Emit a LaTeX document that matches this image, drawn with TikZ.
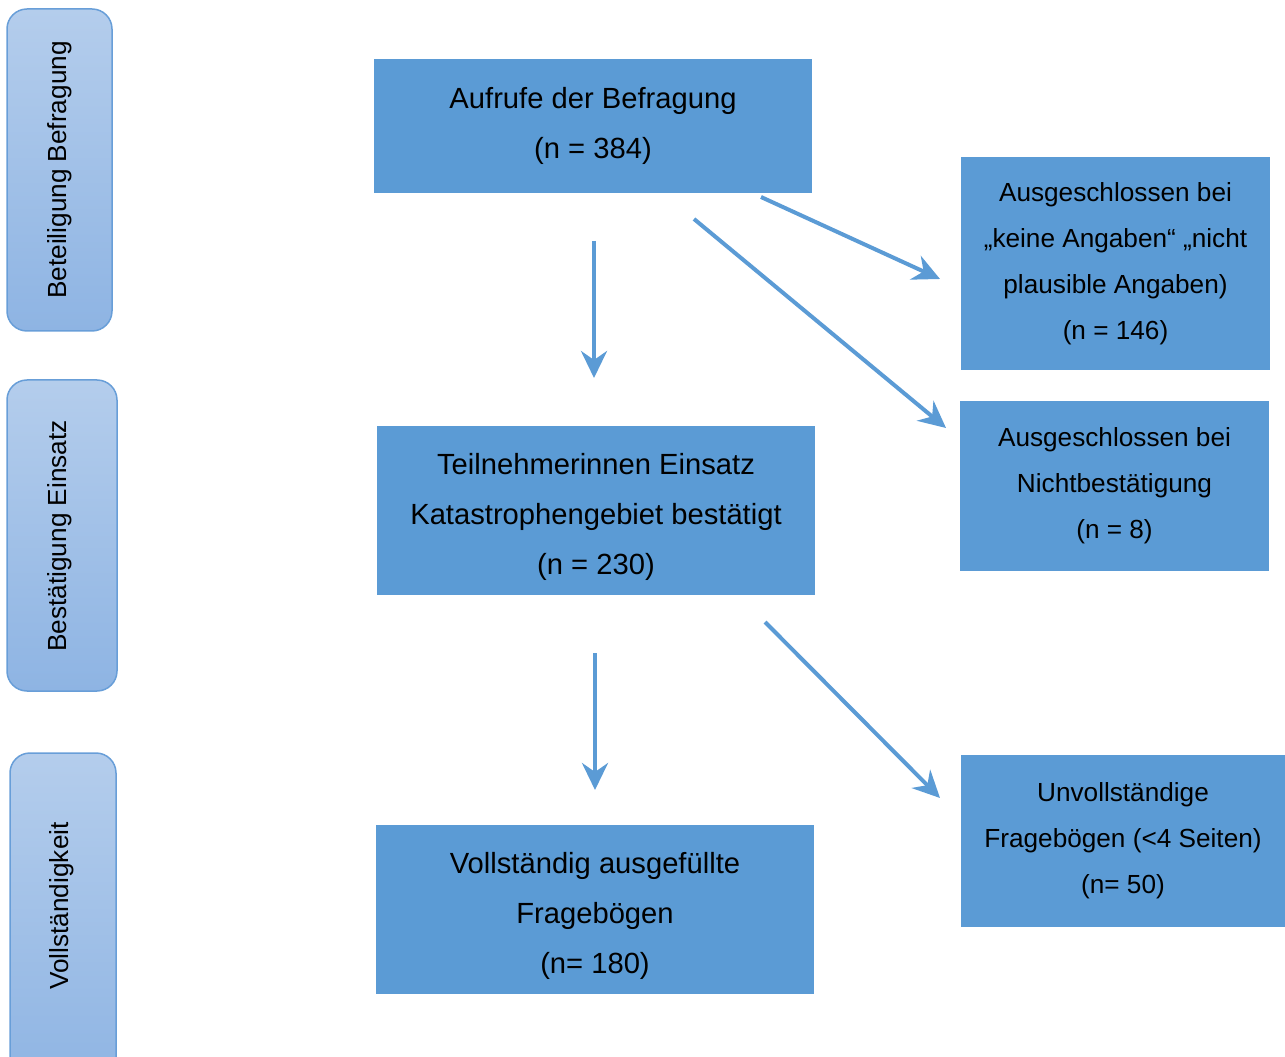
\documentclass[tikz,border=0pt]{standalone}
\usepackage{fontspec}
\setmainfont{Liberation Sans}
\usetikzlibrary{arrows.meta}
\definecolor{boxblue}{RGB}{91,155,213}
\definecolor{sidetop}{RGB}{180,205,236}
\definecolor{sidebot}{RGB}{142,180,227}
\definecolor{sideline}{RGB}{104,158,216}

\newcommand{\toppad}{\rule{0pt}{6.7mm}}

\tikzset{
  mainbox/.style={fill=boxblue, inner sep=0pt, minimum width=87.6mm, minimum height=33.8mm, align=center, font=\fontsize{16.6}{28.5}\selectfont},
  outbox/.style={fill=boxblue, inner sep=0pt, align=center, font=\fontsize{14.9}{26.2}\selectfont},
  sidebox/.style={draw=sideline, line width=0.3mm, rounded corners=4mm, top color=sidetop, bottom color=sidebot},
  sidetext/.style={rotate=90, font=\fontsize{14.9}{18}\selectfont},
  flow/.style={->, draw=boxblue, line width=0.8mm}
}

\begin{document}
\begin{tikzpicture}[x=0.2mm, y=-0.2mm, >={Stealth[length=5.4mm, width=5.2mm, inset=1.8mm]}]
\useasboundingbox (0,0) rectangle (1285,1057);

\path [sidebox] (7,9) rectangle (112,331);
\path [sidebox] (7,380) rectangle (117,691);
\path [sidebox] (10,753) rectangle (116,1090);
\node [sidetext] (beteil) at (60,170) {Beteiligung Befragung};
\node [sidetext] (bestaet) at (60,536) {Bestätigung Einsatz};
\node [sidetext] (vollst) at (62,906) {Vollständigkeit};

\node [mainbox, minimum height=26.8mm] (aufrufe) at (593,126) {Aufrufe der Befragung\\(n = 384)};
\node [mainbox] (teiln) at (596,510.5) {\toppad Teilnehmerinnen Einsatz\\Katastrophengebiet bestätigt\\(n = 230)};
\node [mainbox] (vollfb) at (595,909.5) {\toppad Vollständig ausgefüllte\\Fragebögen\\(n= 180)};

\node [outbox, minimum width=61.8mm, minimum height=42.6mm] (ausg1) at (1115.5,263.5) {Ausgeschlossen bei\\„keine Angaben“ „nicht\\plausible Angaben)\\(n = 146)};
\node [outbox, minimum width=61.8mm, minimum height=34mm] (ausg2) at (1114.5,486) {Ausgeschlossen bei\\Nichtbestätigung\\(n = 8)};
\node [outbox, minimum width=64.8mm, minimum height=34.4mm] (unvoll) at (1123,841) {Unvollständige\\Fragebögen (<4 Seiten)\\(n= 50)};

\coordinate (a1s) at (594,241);
\coordinate (a1e) at (594,378);
\coordinate (a2s) at (595,653);
\coordinate (a2e) at (595,790);
\coordinate (a3s) at (761,197);
\coordinate (a3e) at (940,279);
\coordinate (a4s) at (694,219);
\coordinate (a4e) at (946,428);
\coordinate (a5s) at (765,622);
\coordinate (a5e) at (940,798);

\draw [flow] (a1s) -- (a1e);
\draw [flow] (a2s) -- (a2e);
\draw [flow] (a3s) -- (a3e);
\draw [flow] (a4s) -- (a4e);
\draw [flow] (a5s) -- (a5e);
\end{tikzpicture}
\end{document}
